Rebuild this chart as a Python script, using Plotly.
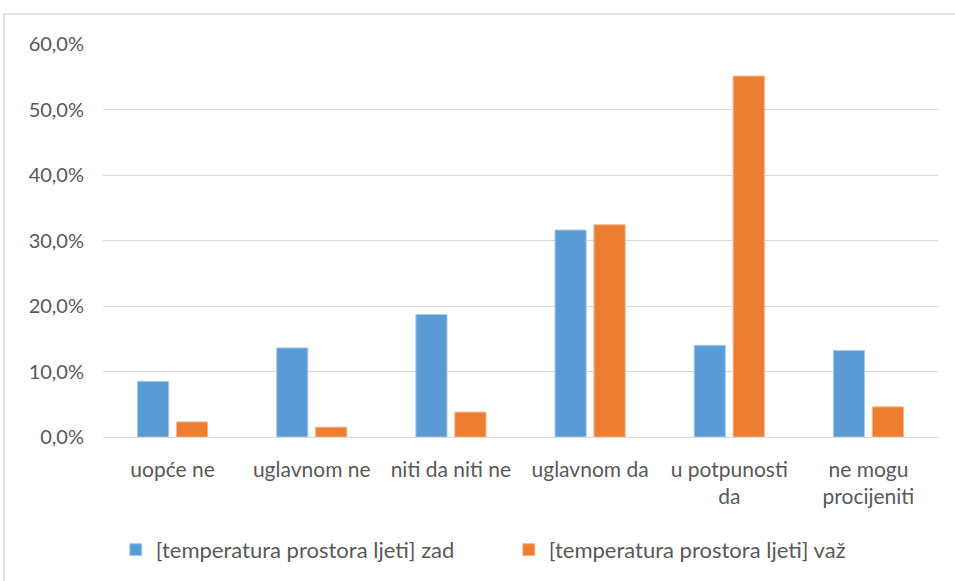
import plotly.graph_objects as go

categories = ["uopće ne", "uglavnom ne", "niti da niti ne", "uglavnom da",
              "u potpunosti<br>da", "ne mogu<br>procijeniti"]
series_names = ["[temperatura prostora ljeti] zad", "[temperatura prostora ljeti] važ"]
zad_values = [0.085, 0.136, 0.187, 0.316, 0.140, 0.132]
vaz_values = [0.023, 0.015, 0.038, 0.324, 0.551, 0.046]
y_ticks = [0, 0.1, 0.2, 0.3, 0.4, 0.5, 0.6]
y_tick_labels = ["0,0%", "10,0%", "20,0%", "30,0%", "40,0%", "50,0%", "60,0%"]

FONT = "Lato, Noto Sans, sans-serif"
TXT = "#595959"

fig = go.Figure()
fig.add_trace(go.Bar(x=categories, y=zad_values, name=series_names[0],
                     marker=dict(color="#5b9bd5", line=dict(color="#a9cbea", width=1))))
fig.add_trace(go.Bar(x=categories, y=vaz_values, name=series_names[1],
                     marker=dict(color="#ed7d31", line=dict(color="#f5b48a", width=1))))

fig.update_layout(
    width=955, height=581,
    margin=dict(l=103, r=17, t=44, b=143),
    paper_bgcolor="white", plot_bgcolor="white",
    barmode="group", bargap=0.44, bargroupgap=0.2,
    font=dict(family=FONT, size=20, color=TXT),
    showlegend=True,
    legend=dict(orientation="h", x=0.486, xanchor="center", y=-0.284, yanchor="middle",
                font=dict(family=FONT, size=22, color=TXT), itemwidth=30,
                tracegroupgap=0, entrywidthmode="pixels", entrywidth=348),
    xaxis=dict(showgrid=False, showline=False, zeroline=False, ticks="",
               tickfont=dict(family=FONT, size=21, color=TXT), ticklabelstandoff=18),
    yaxis=dict(range=[0, 0.6], tickvals=y_ticks, ticktext=y_tick_labels,
               showgrid=True, gridcolor="#d9d9d9", gridwidth=1,
               zeroline=True, zerolinecolor="#d9d9d9", zerolinewidth=1,
               showline=False, ticks="",
               tickfont=dict(family=FONT, size=20, color=TXT), ticklabelstandoff=18),
    shapes=[
        dict(type="line", xref="paper", yref="paper", x0=-0.1186, x1=1.03, y0=1.0761, y1=1.0761,
             line=dict(color="#d9d9d9", width=1.5), layer="below"),
        dict(type="line", xref="paper", yref="paper", x0=-0.1186, x1=-0.1186, y0=1.0761, y1=-0.4,
             line=dict(color="#d9d9d9", width=1.5), layer="below"),
    ],
)

fig.write_html("out.html", config={"displayModeBar": False},
               post_script="document.body.style.margin='0';")
